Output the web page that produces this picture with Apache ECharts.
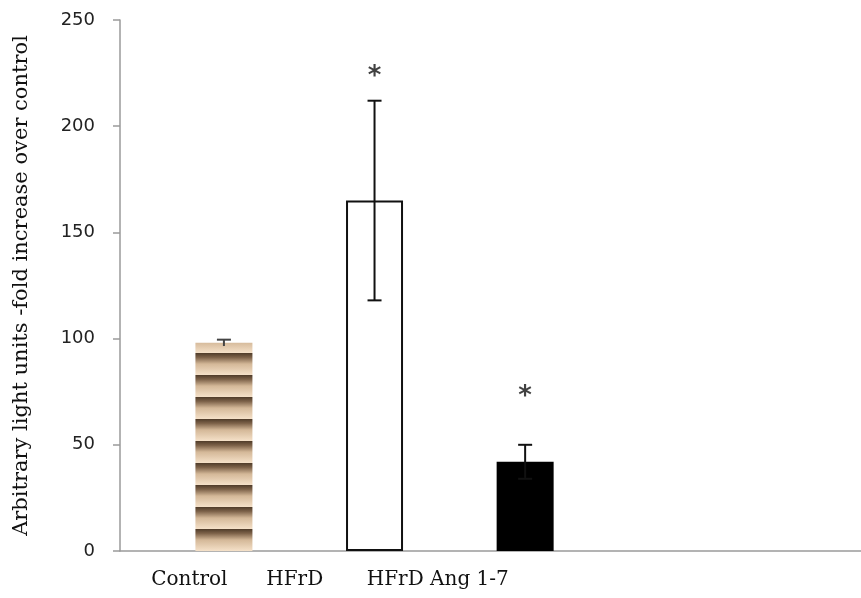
<!DOCTYPE html>
<html>
<head>
<meta charset="utf-8">
<script src="https://cdn.jsdelivr.net/npm/echarts@6/dist/echarts.min.js"></script>
<style>
  html, body { margin: 0; background: #fff; }
  #chart { width: 861px; height: 598px; }
</style>
</head>
<body>
<div id="chart"></div>
<script>
// values
const categories = ['Control', 'HFrD', 'HFrD Ang 1-7']
const barX = [1, 2, 3]
const means = [98, 165, 42]
const errors = [1.5, 47, 8]
const starY = [null, 223, 72.5]
// the original labels sit left of their bars
const labelX = [0.77, 1.47, 2.42]

const SERIF = "'DejaVu Serif', serif"
const SANS = "'DejaVu Sans', Verdana, sans-serif"
const AXIS_GRAY = '#9a9a9a'

// horizontal brown stripe fill for the control bar
function stripePattern() {
  const h = 22
  const off = 1 // phase so a dark band sits near the bar top
  const c = document.createElement('canvas')
  c.width = 4
  c.height = h
  const ctx = c.getContext('2d')
  const stops = [[0, '#4f3b29'], [0.2, '#7d6249'], [0.5, '#d4b898'], [1, '#f5e1c9']]
  const band = (y0) => {
    const g = ctx.createLinearGradient(0, y0, 0, y0 + h)
    stops.forEach(([p, col]) => g.addColorStop(p, col))
    ctx.fillStyle = g
    ctx.fillRect(0, Math.max(0, y0), 4, Math.min(h, y0 + h) - Math.max(0, y0))
  }
  band(off - h)
  band(off)
  return c
}

const barFills = [
  { color: { image: stripePattern(), repeat: 'repeat' }, borderWidth: 0 },
  { color: '#ffffff', borderColor: '#111', borderWidth: 2 },
  { color: '#000000', borderWidth: 0 },
]

const chart = echarts.init(document.getElementById('chart'))

chart.setOption({
  animation: false,
  grid: { left: 120, right: 0, top: 20, bottom: 47, outerBoundsMode: 'none' },
  xAxis: {
    type: 'value',
    min: 0.31,
    max: 5.23,
    splitLine: { show: false },
    axisTick: { show: false },
    axisLine: { show: true, lineStyle: { color: AXIS_GRAY, width: 1.5 } },
    axisLabel: {
      customValues: labelX,
      margin: 19,
      fontFamily: SERIF,
      fontSize: 20,
      color: '#111',
      formatter: v => {
        const i = labelX.findIndex(p => Math.abs(p - v) < 1e-6)
        return i >= 0 ? categories[i] : ''
      },
    },
  },
  yAxis: {
    type: 'value',
    min: 0,
    max: 250,
    interval: 50,
    name: 'Arbitrary light units -fold increase over control',
    nameLocation: 'middle',
    nameGap: 88,
    nameTextStyle: { fontFamily: SERIF, fontSize: 21, color: '#111' },
    splitLine: { show: false },
    axisLine: { show: true, lineStyle: { color: AXIS_GRAY, width: 1.5 } },
    axisTick: { show: true, length: 7, lineStyle: { color: AXIS_GRAY, width: 1.5 } },
    axisLabel: { margin: 25, fontFamily: SANS, fontSize: 18, color: '#222' },
  },
  series: [
    {
      type: 'bar',
      barWidth: 57,
      data: barX.map((x, i) => ({ value: [x, means[i]], itemStyle: barFills[i] })),
    },
    {
      type: 'custom',
      z: 5,
      data: barX.map((x, i) => [x, means[i] - errors[i], means[i] + errors[i]]),
      renderItem: (params, api) => {
        const lo = api.coord([api.value(0), api.value(1)])
        const hi = api.coord([api.value(0), api.value(2)])
        const style = { stroke: params.dataIndex === 0 ? '#444' : '#111', lineWidth: 2 }
        const cap = 7
        const children = [
          { type: 'line', shape: { x1: hi[0], y1: hi[1], x2: lo[0], y2: lo[1] }, style },
          { type: 'line', shape: { x1: hi[0] - cap, y1: hi[1], x2: hi[0] + cap, y2: hi[1] }, style },
        ]
        // the control's lower whisker is hidden by its fill in the original
        if (params.dataIndex !== 0) {
          children.push({ type: 'line', shape: { x1: lo[0] - cap, y1: lo[1], x2: lo[0] + cap, y2: lo[1] }, style })
        }
        return { type: 'group', children }
      },
    },
    {
      type: 'scatter',
      symbolSize: 0,
      data: barX.map((x, i) => [x, starY[i]]).filter(d => d[1] != null),
      label: {
        show: true,
        position: 'inside',
        formatter: '*',
        fontFamily: SANS,
        fontWeight: 'bold',
        fontSize: 26,
        color: '#111',
      },
    },
  ],
})
</script>
</body>
</html>
